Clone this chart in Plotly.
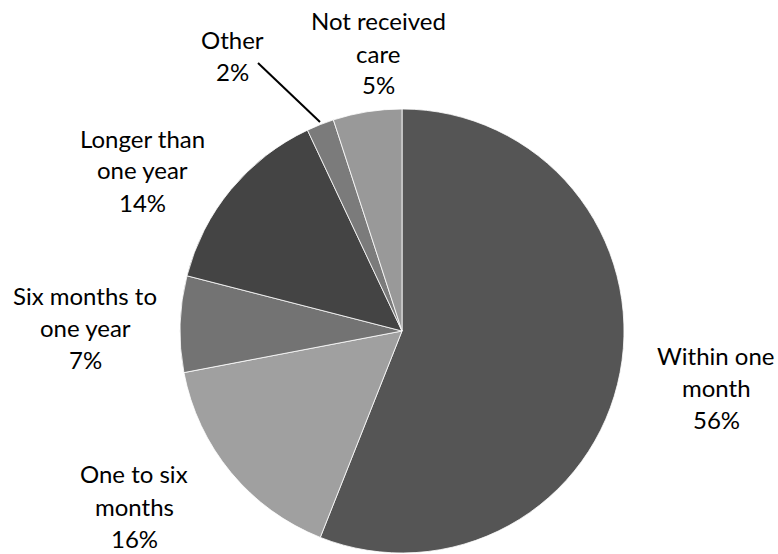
import plotly.graph_objects as go

categories = ["Within one month", "One to six months", "Six months to one year",
              "Longer than one year", "Other", "Not received care"]
values = [56, 16, 7, 14, 2, 5]
label_lines = [["Within one", "month"], ["One to six", "months"], ["Six months to", "one year"],
               ["Longer than", "one year"], ["Other"], ["Not received", "care"]]
colors = ["#555555", "#a0a0a0", "#737373", "#444444", "#7b7b7b", "#999999"]

W, H = 778, 554
# label block centers in pixels
label_pos = [(716, 387), (134, 506), (85, 327), (142, 170), (232, 55), (378, 53)]
LINE = 32

fig = go.Figure(go.Pie(
    labels=categories, values=values, sort=False, direction="clockwise", rotation=0,
    marker=dict(colors=colors, line=dict(color="white", width=0.8)),
    textinfo="none", hoverinfo="label+percent", showlegend=False,
    domain=dict(x=[180 / W, 624 / W], y=[1 - 553 / H, 1 - 109 / H]),
))

total = sum(values)
anns = []
for lines, v, (px, py) in zip(label_lines, values, label_pos):
    all_lines = lines + [f"{round(100 * v / total)}%"]
    n = len(all_lines)
    for i, t in enumerate(all_lines):
        ly = py + (i - (n - 1) / 2) * LINE
        anns.append(dict(x=px / W, y=1 - ly / H, xref="paper", yref="paper", text=t,
                         showarrow=False, xanchor="center", yanchor="middle", align="center",
                         font=dict(family="Lato, Open Sans, sans-serif", size=24, color="#000000")))

fig.update_layout(
    width=W, height=H, margin=dict(l=0, r=0, t=0, b=0),
    paper_bgcolor="white", plot_bgcolor="white",
    annotations=anns,
    shapes=[dict(type="line", xref="paper", yref="paper",
                 x0=258 / W, y0=1 - 63 / H, x1=320 / W, y1=1 - 122 / H,
                 line=dict(color="black", width=2))],
)
fig.write_html("out.html", config={"displayModeBar": False},
               post_script="document.body.style.margin='0px';document.body.style.overflow='hidden';")
